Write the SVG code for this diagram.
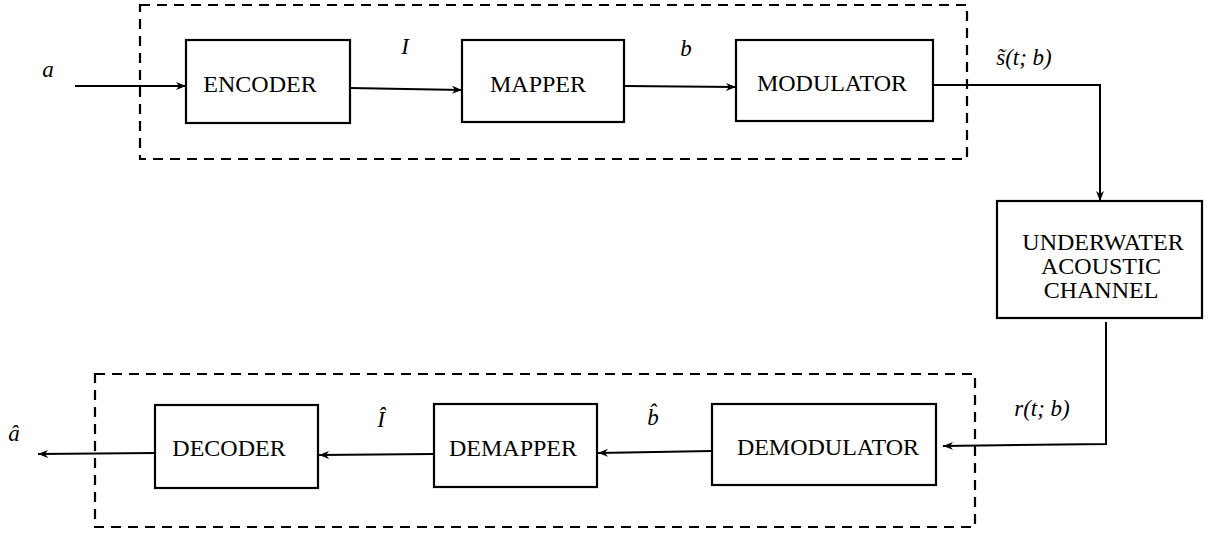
<svg xmlns="http://www.w3.org/2000/svg" width="1211" height="536" viewBox="0 0 1211 536">
<style>
.box{fill:#fff;stroke:#000;stroke-width:2.2}
.dash{fill:none;stroke:#000;stroke-width:2.2;stroke-dasharray:10 7}
.lbl{font-family:'Liberation Serif','Times New Roman','DejaVu Serif',serif;font-size:24px;fill:#000;text-anchor:middle}
.math{font-family:'Liberation Serif','Times New Roman','DejaVu Serif',serif;font-style:italic;font-size:23px;fill:#000;text-anchor:middle}
.wire{fill:none;stroke:#000;stroke-width:2}
</style>
<defs>
<marker id="ah" viewBox="0 0 10 10" refX="10" refY="5" markerWidth="10" markerHeight="10" markerUnits="userSpaceOnUse" orient="auto">
<path d="M0,1 L10,5 L0,9 L3,5 Z" fill="#000"/>
</marker>
</defs>
<rect width="1211" height="536" fill="#fff"/>
<g id="tx-group"><rect class="dash" x="140" y="5" width="827" height="154"/></g>
<g id="rx-group"><rect class="dash" x="95" y="374" width="880" height="153"/></g>
<g id="connectors">
<path class="wire" d="M75,86 L186,86" marker-end="url(#ah)"/>
<path class="wire" d="M350,88 L462,90" marker-end="url(#ah)"/>
<path class="wire" d="M624,86 L736,87" marker-end="url(#ah)"/>
<path class="wire" d="M933,85 L1100,85 L1100,201" marker-end="url(#ah)"/>
<path class="wire" d="M1106,322 L1106,444 L943,446" marker-end="url(#ah)"/>
<path class="wire" d="M712,451 L598,453" marker-end="url(#ah)"/>
<path class="wire" d="M434,454 L319,455" marker-end="url(#ah)"/>
<path class="wire" d="M155,453 L38,454" marker-end="url(#ah)"/>
<text class="math" x="48" y="77">a</text>
<text class="math" x="405" y="54">I</text>
<text class="math" x="686" y="56">b</text>
<text class="math" x="1024" y="65">s̃(t; b)</text>
<text class="math" x="1042" y="416">r(t; b)</text>
<text class="math" x="653" y="425">b̂</text>
<text class="math" x="381" y="427">Î</text>
<text class="math" x="14" y="441">â</text>
</g>
<g id="encoder"><rect class="box" x="186" y="40" width="164" height="83"/><text class="lbl" x="260" y="92">ENCODER</text></g>
<g id="mapper"><rect class="box" x="462" y="40" width="162" height="82"/><text class="lbl" x="538" y="92">MAPPER</text></g>
<g id="modulator"><rect class="box" x="736" y="40" width="197" height="81"/><text class="lbl" x="832" y="91">MODULATOR</text></g>
<g id="channel"><rect class="box" x="997" y="201" width="205" height="117"/>
<text class="lbl" x="1103" y="250">UNDERWATER</text>
<text class="lbl" x="1101" y="274">ACOUSTIC</text>
<text class="lbl" x="1101" y="298">CHANNEL</text></g>
<g id="demodulator"><rect class="box" x="712" y="404" width="224" height="81"/><text class="lbl" x="828" y="455">DEMODULATOR</text></g>
<g id="demapper"><rect class="box" x="434" y="404" width="163" height="83"/><text class="lbl" x="513" y="456">DEMAPPER</text></g>
<g id="decoder"><rect class="box" x="155" y="405" width="163" height="83"/><text class="lbl" x="229" y="456">DECODER</text></g>
</svg>
